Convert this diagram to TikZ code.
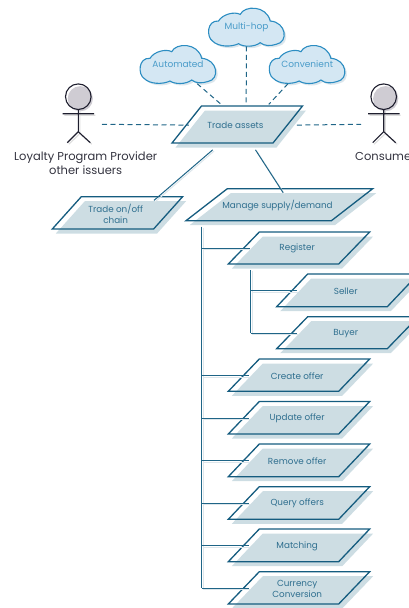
\documentclass[tikz,border=0pt]{standalone}
\usepackage{fontspec}
\setmainfont{Poppins}
\usetikzlibrary{calc}
\definecolor{paraFill}{HTML}{CDDDE3}
\definecolor{paraLine}{HTML}{155C7F}
\definecolor{paraText}{HTML}{2F6F8F}
\definecolor{connLine}{HTML}{1F6587}
\definecolor{connShadow}{HTML}{DDE6EB}
\definecolor{cloudFill}{HTML}{D4E7F3}
\definecolor{cloudLine}{HTML}{2C8DC2}
\definecolor{cloudText}{HTML}{4A9CC9}
\definecolor{cloudShadow}{HTML}{DCE6EC}
\definecolor{actorLine}{HTML}{1E1E2E}
\definecolor{actorFill}{HTML}{CFCCD3}
\definecolor{actorShadow}{HTML}{DDDDDD}
\definecolor{labelText}{HTML}{33333F}
\tikzset{
  paraedge/.style={draw=paraLine,line width=1.3pt,line join=miter},
  parafill/.style={fill=paraFill,draw=none},
  paranode/.style={inner sep=0pt,align=center,text=paraText,font=\fontsize{8.8}{11}\selectfont},
  conn/.style={draw=connLine,line width=1pt,preaction={draw=connShadow,line width=1pt,transform canvas={shift={(1.3pt,-1.3pt)}}}},
  dashconn/.style={draw=connLine,line width=1pt,dash pattern=on 5pt off 3.5pt},
  cloudedge/.style={draw=cloudLine,line width=1.1pt,fill=cloudFill},
  cloudnode/.style={inner sep=0pt,text=cloudText,font=\fontsize{9}{10}\selectfont,minimum width=74pt,minimum height=38pt},
  actoredge/.style={draw=actorLine,line width=1.1pt},
  actorlabel/.style={inner sep=0pt,text=labelText,font=\fontsize{11.5}{14}\selectfont,align=center}
}
% name, x of bottom-left, slant, width, y top, y bottom, node width, text
\newcommand{\parashape}[8]{
  \fill[parafill] ({#2+3.5},{#6+4.5}) -- ({#2+#3+3.5},{#5+4.5}) -- ({#2+#3+#4+3.5},{#5+4.5}) -- ({#2+#4+3.5},{#6+4.5}) -- cycle;
  \draw[paraedge] (#2,#6) -- ({#2+#3},#5) -- ({#2+#3+#4},#5) -- ({#2+#4},#6) -- cycle;
  \node[paranode,minimum width=#7 pt,minimum height={#6-#5}] (#1) at ({#2+(#3+#4)/2-1.8},{(#5+#6)/2+0.6}) {#8};
}
\newcommand{\cloudshape}[4]{
  \begin{scope}[shift={(#2,#3)}]
    \foreach \dx/\kind in {2/s,0/m}{
    \begin{scope}[shift={(\dx,\dx)}]
    \if\kind s\def\cstyle{fill=cloudShadow,draw=none}\else\def\cstyle{cloudedge}\fi
    \expandafter\path\expandafter[\cstyle] (-34,13.8) .. controls (-40,10) and (-40,-7) .. (-28,-6.2)
      .. controls (-24,-13) and (-12,-16) .. (-6.3,-12.8)
      .. controls (-2,-22) and (20,-22) .. (23.7,-6.2)
      .. controls (40,-5) and (42,15) .. (30,17)
      .. controls (24,19) and (18,19) .. (13.7,15.5)
      .. controls (8,20) and (-3,20) .. (-8,16.5)
      .. controls (-15,20) and (-28,20) .. (-34,13.8) -- cycle;
    \end{scope}}
    \node[cloudnode] (#1) at (0,0) {#4};
  \end{scope}
}
\newcommand{\actorshape}[2]{
  \begin{scope}[shift={(#1,96.7)}]
    \draw[actorShadow,line width=1.1pt] (1.5,14) -- (1.5,37) (-14,18.5) -- (17,18.5) (1.5,37) -- (-9.5,47.5) (1.5,37) -- (13.5,47.5);
    \fill[actorFill] (2,2) circle (12.6);
    \draw[actoredge] (0,0) circle (12.8);
    \draw[actoredge] (0,12.8) -- (0,35) (-15.7,17) -- (15.8,17) (0,35) -- (-11,46) (0,35) -- (12,46);
    \coordinate (#2) at (0,27.6);
  \end{scope}
}
\begin{document}
\begin{tikzpicture}[x=1pt,y=-1pt]
\useasboundingbox (0,0) rectangle (409,608);
\clip (0,0) rectangle (409,608);
\actorshape{78.3}{left}
\actorshape{383.7}{right}
\node[actorlabel] (provider) at (85.7,163.6) {Loyalty Program Provider\\other issuers};
\node[actorlabel,anchor=west] (consumer) at (355,156.6) {Consumer};
\cloudshape{auto}{178}{64.5}{Automated}
\cloudshape{multi}{246.5}{27.2}{Multi-hop}
\cloudshape{conv}{307.2}{64.5}{Convenient}
\parashape{ta}{172}{29.5}{101}{106}{143}{92.6}{Trade assets}
\parashape{onoff}{52.3}{29}{101.3}{196.7}{229}{90}{Trade on/off\\chain}
\parashape{man}{186}{41.3}{145.4}{188.7}{220.7}{120}{Manage supply/demand}
\parashape{reg}{228.3}{31}{110.4}{232}{264}{95}{Register}
\parashape{sell}{276.7}{31}{110.6}{274}{306.7}{97}{Seller}
\parashape{buy}{276.7}{31}{110.6}{316.7}{348.7}{97}{Buyer}
\parashape{create}{228.3}{31}{110.4}{359}{391.3}{97}{Create offer}
\parashape{update}{228.3}{31}{110.4}{401.5}{434}{97}{Update offer}
\parashape{remove}{228.3}{31}{110.4}{444}{476.7}{97}{Remove offer}
\parashape{query}{228.3}{31}{110.4}{486.7}{519.3}{97}{Query offers}
\parashape{match}{228.3}{31}{110.4}{529}{561.7}{97}{Matching}
\parashape{curr}{228.3}{31}{110.4}{571.7}{604}{97}{Currency\\Conversion}
\coordinate (trunk) at (201.7,226.5);
\coordinate (subtrunk) at (250.7,270);
% connectors
\draw[dashconn] ($(left)+(23.7,0)$) -- ($(ta.west)+(0,0)$);
\draw[dashconn] ($(ta.east)+(15,0)$) -- ($(right)+(-22.7,0)$);
\draw[dashconn] (auto.-45) -- ($(ta.north)+(-14.3,-2)$);
\draw[dashconn] (multi.south) -- ($(ta.north)+(10.7,-2)$);
\draw[dashconn] (conv.-135) -- ($(ta.north)+(33.3,-2)$);
\draw[conn] ($(ta.south)+(-22.7,6)$) -- ($(onoff.north)+(38.3,3.3)$);
\draw[conn] ($(ta.south)+(20,6)$) -- ($(man.north)+(5.6,3.6)$);
\draw[conn] (trunk) -- (trunk |- curr.west);
\foreach \n in {reg,create,update,remove,query,match,curr}
  \draw[conn] (trunk |- \n.west) -- (\n.west);
\draw[conn] (subtrunk) -- (subtrunk |- buy.west);
\foreach \n in {sell,buy}
  \draw[conn] (subtrunk |- \n.west) -- (\n.west);
\end{tikzpicture}
\end{document}
